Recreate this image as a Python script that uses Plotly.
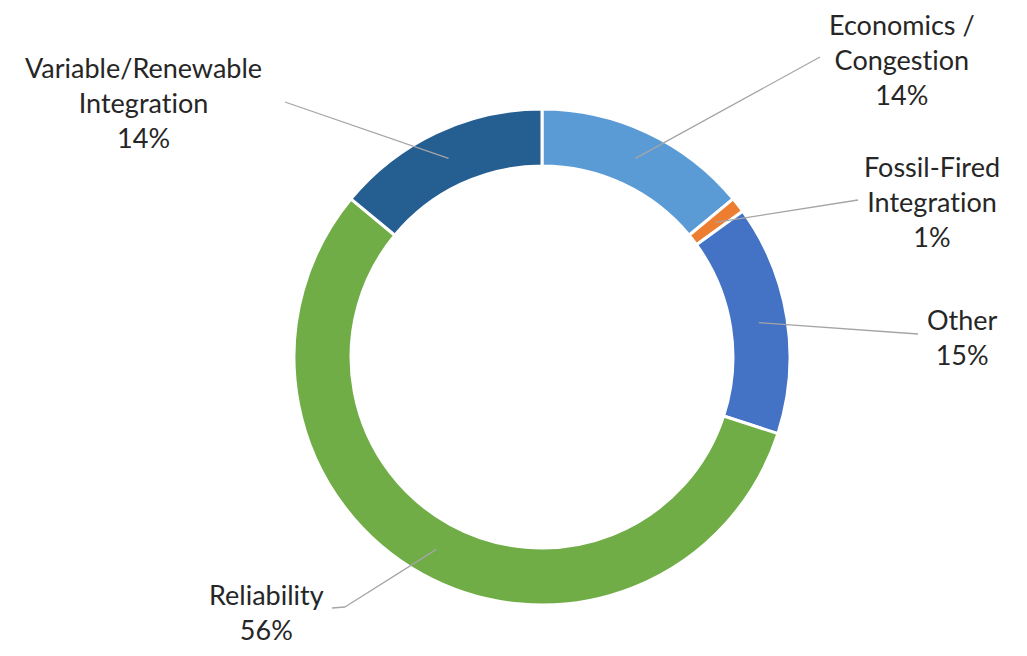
import math
import plotly.graph_objects as go

# ---- data ----
categories = ["Economics / Congestion", "Fossil-Fired Integration", "Other", "Reliability", "Variable/Renewable Integration"]
label_text = ["Economics /<br>Congestion", "Fossil-Fired<br>Integration", "Other", "Reliability", "Variable/Renewable<br>Integration"]
values = [14, 1, 15, 56, 14]
colors = ["#5B9BD5", "#ED7D31", "#4472C4", "#70AD47", "#255E91"]

# ---- layout (pixel space of the screenshot) ----
W, H = 1027, 656
OFF = 8  # page body margin
CX, CY, R = 542, 357, 248
HOLE = 0.77
# label centers and leader end points (pixels)
label_pos = [(902, 60), (932, 201), (962, 337), (266, 612), (143, 103)]
leader_end = [[(820, 57)], [(858, 200)], [(918, 334)], [(345, 607), (332, 608)], [(285, 102)]]


def px(x):
    return (x - OFF) / W


def py(y):
    return 1 - (y - OFF) / H


def no_lig(s):
    # avoid the "ti" ligature of the substitute font
    return s.replace("ti", "t\u200ci")


fig = go.Figure(go.Pie(
    labels=categories, values=values, sort=False, direction="clockwise", rotation=0,
    hole=HOLE, marker=dict(colors=colors, line=dict(color="white", width=3)),
    textinfo="none", hoverinfo="label+percent",
    domain=dict(x=[px(CX - R), px(CX + R)], y=[py(CY + R), py(CY - R)]),
    showlegend=False,
))

total = sum(values)
cum = 0
shapes = []
annotations = []
rmid = R * (1 + HOLE) / 2
for i, v in enumerate(values):
    mid = (cum + v / 2) / total * 2 * math.pi
    cum += v
    sx = CX + rmid * math.sin(mid)
    sy = CY - rmid * math.cos(mid)
    pts = [(sx, sy)] + leader_end[i]
    for (x0, y0), (x1, y1) in zip(pts[:-1], pts[1:]):
        shapes.append(dict(type="line", xref="paper", yref="paper",
                           x0=px(x0), y0=py(y0), x1=px(x1), y1=py(y1),
                           line=dict(color="#A5A5A5", width=1.3)))
    pct = round(v / total * 100)
    lx, ly = label_pos[i]
    annotations.append(dict(text=f"{no_lig(label_text[i])}<br>{pct}%", x=px(lx), y=py(ly),
                            xref="paper", yref="paper", xanchor="center", yanchor="middle",
                            showarrow=False, align="center",
                            font=dict(family="Lato", size=27, color="#262626")))

fig.update_layout(width=W, height=H, margin=dict(l=0, r=0, t=0, b=0),
                  paper_bgcolor="white", plot_bgcolor="white",
                  shapes=shapes, annotations=annotations)
fig.write_html("out.html")
